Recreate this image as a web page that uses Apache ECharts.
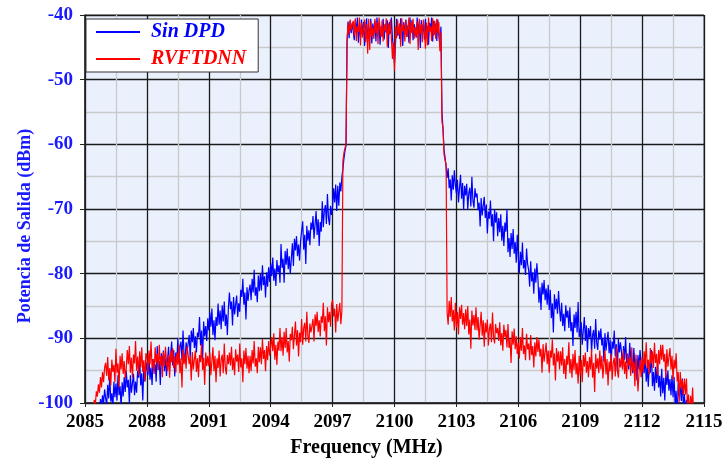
<!DOCTYPE html>
<html>
<head>
<meta charset="utf-8">
<script src="https://cdn.jsdelivr.net/npm/echarts@6/dist/echarts.min.js"></script>
<style>
  html, body { margin: 0; padding: 0; background: #ffffff; }
  #chart { width: 725px; height: 459px; }
</style>
</head>
<body>
<div id="chart"></div>
<script>
// Frequency sweep points (MHz), one row per MHz
const freqMHz = [
  2085.40, 2085.45, 2085.50, 2085.55, 2085.60, 2085.65, 2085.70, 2085.75, 2085.80, 2085.85, 2085.90, 2085.95,
  2086.00, 2086.05, 2086.10, 2086.15, 2086.20, 2086.25, 2086.30, 2086.35, 2086.40, 2086.45, 2086.50, 2086.55, 2086.60, 2086.65, 2086.70, 2086.75, 2086.80, 2086.85, 2086.90, 2086.95,
  2087.00, 2087.05, 2087.10, 2087.15, 2087.20, 2087.25, 2087.30, 2087.35, 2087.40, 2087.45, 2087.50, 2087.55, 2087.60, 2087.65, 2087.70, 2087.75, 2087.80, 2087.85, 2087.90, 2087.95,
  2088.00, 2088.05, 2088.10, 2088.15, 2088.20, 2088.25, 2088.30, 2088.35, 2088.40, 2088.45, 2088.50, 2088.55, 2088.60, 2088.65, 2088.70, 2088.75, 2088.80, 2088.85, 2088.90, 2088.95,
  2089.00, 2089.05, 2089.10, 2089.15, 2089.20, 2089.25, 2089.30, 2089.35, 2089.40, 2089.45, 2089.50, 2089.55, 2089.60, 2089.65, 2089.70, 2089.75, 2089.80, 2089.85, 2089.90, 2089.95,
  2090.00, 2090.05, 2090.10, 2090.15, 2090.20, 2090.25, 2090.30, 2090.35, 2090.40, 2090.45, 2090.50, 2090.55, 2090.60, 2090.65, 2090.70, 2090.75, 2090.80, 2090.85, 2090.90, 2090.95,
  2091.00, 2091.05, 2091.10, 2091.15, 2091.20, 2091.25, 2091.30, 2091.35, 2091.40, 2091.45, 2091.50, 2091.55, 2091.60, 2091.65, 2091.70, 2091.75, 2091.80, 2091.85, 2091.90, 2091.95,
  2092.00, 2092.05, 2092.10, 2092.15, 2092.20, 2092.25, 2092.30, 2092.35, 2092.40, 2092.45, 2092.50, 2092.55, 2092.60, 2092.65, 2092.70, 2092.75, 2092.80, 2092.85, 2092.90, 2092.95,
  2093.00, 2093.05, 2093.10, 2093.15, 2093.20, 2093.25, 2093.30, 2093.35, 2093.40, 2093.45, 2093.50, 2093.55, 2093.60, 2093.65, 2093.70, 2093.75, 2093.80, 2093.85, 2093.90, 2093.95,
  2094.00, 2094.05, 2094.10, 2094.15, 2094.20, 2094.25, 2094.30, 2094.35, 2094.40, 2094.45, 2094.50, 2094.55, 2094.60, 2094.65, 2094.70, 2094.75, 2094.80, 2094.85, 2094.90, 2094.95,
  2095.00, 2095.05, 2095.10, 2095.15, 2095.20, 2095.25, 2095.30, 2095.35, 2095.40, 2095.45, 2095.50, 2095.55, 2095.60, 2095.65, 2095.70, 2095.75, 2095.80, 2095.85, 2095.90, 2095.95,
  2096.00, 2096.05, 2096.10, 2096.15, 2096.20, 2096.25, 2096.30, 2096.35, 2096.40, 2096.45, 2096.50, 2096.55, 2096.60, 2096.65, 2096.70, 2096.75, 2096.80, 2096.85, 2096.90, 2096.95,
  2097.00, 2097.05, 2097.10, 2097.15, 2097.20, 2097.25, 2097.30, 2097.35, 2097.40, 2097.45, 2097.50, 2097.55, 2097.60, 2097.65, 2097.70, 2097.75, 2097.80, 2097.85, 2097.90, 2097.95,
  2098.00, 2098.05, 2098.10, 2098.15, 2098.20, 2098.25, 2098.30, 2098.35, 2098.40, 2098.45, 2098.50, 2098.55, 2098.60, 2098.65, 2098.70, 2098.75, 2098.80, 2098.85, 2098.90, 2098.95,
  2099.00, 2099.05, 2099.10, 2099.15, 2099.20, 2099.25, 2099.30, 2099.35, 2099.40, 2099.45, 2099.50, 2099.55, 2099.60, 2099.65, 2099.70, 2099.75, 2099.80, 2099.85, 2099.90, 2099.95,
  2100.00, 2100.05, 2100.10, 2100.15, 2100.20, 2100.25, 2100.30, 2100.35, 2100.40, 2100.45, 2100.50, 2100.55, 2100.60, 2100.65, 2100.70, 2100.75, 2100.80, 2100.85, 2100.90, 2100.95,
  2101.00, 2101.05, 2101.10, 2101.15, 2101.20, 2101.25, 2101.30, 2101.35, 2101.40, 2101.45, 2101.50, 2101.55, 2101.60, 2101.65, 2101.70, 2101.75, 2101.80, 2101.85, 2101.90, 2101.95,
  2102.00, 2102.05, 2102.10, 2102.15, 2102.20, 2102.25, 2102.30, 2102.35, 2102.40, 2102.45, 2102.50, 2102.55, 2102.60, 2102.65, 2102.70, 2102.75, 2102.80, 2102.85, 2102.90, 2102.95,
  2103.00, 2103.05, 2103.10, 2103.15, 2103.20, 2103.25, 2103.30, 2103.35, 2103.40, 2103.45, 2103.50, 2103.55, 2103.60, 2103.65, 2103.70, 2103.75, 2103.80, 2103.85, 2103.90, 2103.95,
  2104.00, 2104.05, 2104.10, 2104.15, 2104.20, 2104.25, 2104.30, 2104.35, 2104.40, 2104.45, 2104.50, 2104.55, 2104.60, 2104.65, 2104.70, 2104.75, 2104.80, 2104.85, 2104.90, 2104.95,
  2105.00, 2105.05, 2105.10, 2105.15, 2105.20, 2105.25, 2105.30, 2105.35, 2105.40, 2105.45, 2105.50, 2105.55, 2105.60, 2105.65, 2105.70, 2105.75, 2105.80, 2105.85, 2105.90, 2105.95,
  2106.00, 2106.05, 2106.10, 2106.15, 2106.20, 2106.25, 2106.30, 2106.35, 2106.40, 2106.45, 2106.50, 2106.55, 2106.60, 2106.65, 2106.70, 2106.75, 2106.80, 2106.85, 2106.90, 2106.95,
  2107.00, 2107.05, 2107.10, 2107.15, 2107.20, 2107.25, 2107.30, 2107.35, 2107.40, 2107.45, 2107.50, 2107.55, 2107.60, 2107.65, 2107.70, 2107.75, 2107.80, 2107.85, 2107.90, 2107.95,
  2108.00, 2108.05, 2108.10, 2108.15, 2108.20, 2108.25, 2108.30, 2108.35, 2108.40, 2108.45, 2108.50, 2108.55, 2108.60, 2108.65, 2108.70, 2108.75, 2108.80, 2108.85, 2108.90, 2108.95,
  2109.00, 2109.05, 2109.10, 2109.15, 2109.20, 2109.25, 2109.30, 2109.35, 2109.40, 2109.45, 2109.50, 2109.55, 2109.60, 2109.65, 2109.70, 2109.75, 2109.80, 2109.85, 2109.90, 2109.95,
  2110.00, 2110.05, 2110.10, 2110.15, 2110.20, 2110.25, 2110.30, 2110.35, 2110.40, 2110.45, 2110.50, 2110.55, 2110.60, 2110.65, 2110.70, 2110.75, 2110.80, 2110.85, 2110.90, 2110.95,
  2111.00, 2111.05, 2111.10, 2111.15, 2111.20, 2111.25, 2111.30, 2111.35, 2111.40, 2111.45, 2111.50, 2111.55, 2111.60, 2111.65, 2111.70, 2111.75, 2111.80, 2111.85, 2111.90, 2111.95,
  2112.00, 2112.05, 2112.10, 2112.15, 2112.20, 2112.25, 2112.30, 2112.35, 2112.40, 2112.45, 2112.50, 2112.55, 2112.60, 2112.65, 2112.70, 2112.75, 2112.80, 2112.85, 2112.90, 2112.95,
  2113.00, 2113.05, 2113.10, 2113.15, 2113.20, 2113.25, 2113.30, 2113.35, 2113.40, 2113.45, 2113.50, 2113.55, 2113.60, 2113.65, 2113.70, 2113.75, 2113.80, 2113.85, 2113.90, 2113.95,
  2114.00, 2114.05, 2114.10, 2114.15, 2114.20, 2114.25, 2114.30, 2114.35, 2114.40, 2114.45, 2114.50, 2114.55, 2114.60
];

// Output power without predistortion (dBm)
const sinDpd = [
  -104.5, -103.0, -103.8, -101.6, -102.4, -100.3, -101.5, -99.4, -100.6, -98.8, -100.1, -97.9,
  -98.1, -100.5, -97.2, -99.3, -95.8, -99.8, -98.5, -100.8, -96.7, -99.1, -97.0, -99.6, -95.7, -98.8, -97.4, -100.7, -96.8, -99.0, -96.0, -98.3,
  -95.0, -97.6, -96.4, -100.1, -95.7, -98.4, -96.9, -95.5, -98.8, -96.7, -98.4, -95.0, -96.1, -93.3, -97.3, -95.4, -99.6, -94.6, -96.7, -95.1,
  -93.7, -95.7, -92.8, -96.4, -94.5, -97.2, -93.2, -95.1, -94.0, -96.7, -91.2, -94.9, -93.5, -97.2, -92.3, -94.4, -91.9, -95.1, -93.1, -95.8,
  -93.4, -91.3, -94.8, -92.6, -90.5, -94.2, -91.8, -95.9, -92.2, -93.7, -89.9, -93.9, -91.3, -90.5, -93.4, -88.8, -92.5, -93.6, -90.6, -92.0,
  -91.9, -89.5, -93.0, -88.8, -90.6, -88.4, -91.5, -89.7, -92.2, -89.1, -89.8, -86.7, -91.1, -88.8, -93.3, -87.4, -89.7, -88.1, -90.4, -86.9,
  -88.8, -86.0, -88.2, -85.4, -89.5, -87.2, -90.3, -86.7, -88.1, -84.6, -87.9, -85.7, -88.6, -84.9, -87.4, -84.3, -88.1, -86.3, -89.5, -85.2,
  -82.9, -85.5, -84.3, -88.0, -83.6, -86.3, -84.8, -83.4, -86.7, -84.6, -85.9, -82.5, -83.6, -80.8, -84.8, -82.9, -87.1, -82.1, -84.2, -82.6,
  -81.7, -84.1, -80.8, -82.9, -79.4, -83.4, -82.1, -84.4, -80.3, -82.7, -80.0, -82.6, -78.7, -81.8, -80.4, -83.7, -79.8, -82.0, -79.0, -81.3,
  -78.4, -80.4, -77.5, -81.1, -79.2, -81.9, -77.9, -79.8, -78.7, -81.4, -75.4, -79.1, -77.7, -81.4, -76.5, -78.6, -76.1, -79.3, -77.3, -80.0,
  -77.7, -75.3, -78.8, -74.6, -76.4, -74.2, -77.3, -75.5, -78.0, -74.9, -75.0, -71.9, -76.3, -74.0, -78.5, -72.6, -74.9, -73.3, -75.6, -72.1,
  -73.2, -71.1, -74.6, -72.4, -70.3, -74.0, -71.6, -75.7, -72.0, -73.5, -68.8, -72.8, -70.2, -69.4, -72.3, -67.7, -71.4, -72.5, -69.5, -70.9,
  -69.6, -66.8, -69.0, -66.2, -70.3, -66.4, -69.5, -65.9, -67.3, -65.0, -63.8, -62.2, -61.0, -60.2, -44.3, -41.0, -43.6, -40.9, -42.8, -41.2,
  -41.4, -43.9, -40.8, -42.7, -40.4, -44.3, -41.6, -43.4, -40.7, -43.1, -41.1, -44.8, -41.8, -40.5, -43.7, -42.0, -43.2, -40.6, -44.4, -41.3,
  -43.0, -40.9, -44.1, -40.4, -42.5, -41.2, -44.6, -41.7, -43.3, -40.6, -43.8, -41.4, -42.7, -40.8, -45.1, -41.1, -42.9, -40.4, -43.5, -45.3,
  -47.4, -44.4, -40.6, -43.2, -42.0, -43.7, -40.5, -41.8, -44.8, -41.1, -43.1, -40.7, -43.4, -41.6, -44.3, -40.4, -42.7, -40.8, -43.9, -41.4,
  -42.1, -43.5, -40.4, -42.9, -41.1, -45.1, -40.8, -42.7, -41.4, -43.8, -40.6, -43.3, -41.7, -44.6, -41.2, -42.5, -40.4, -44.1, -40.9, -43.0,
  -41.3, -44.0, -40.7, -43.2, -44.9, -41.8, -55.0, -57.5, -60.8, -62.0, -63.5, -65.2, -63.7, -66.8, -65.4, -68.7, -64.8, -67.0, -64.0, -66.3,
  -67.6, -65.5, -69.0, -66.8, -64.7, -68.4, -66.0, -70.1, -66.4, -67.9, -66.1, -70.1, -67.5, -66.7, -69.6, -65.0, -68.7, -69.8, -66.8, -68.2,
  -67.6, -70.2, -69.0, -72.7, -68.3, -71.0, -69.5, -68.1, -71.4, -69.3, -73.8, -70.4, -71.5, -68.7, -72.7, -70.8, -75.0, -70.0, -72.1, -70.5,
  -74.2, -71.4, -73.6, -70.8, -74.9, -72.6, -75.7, -72.1, -73.5, -70.0, -76.7, -74.5, -77.4, -73.7, -76.2, -73.1, -76.9, -75.1, -78.3, -74.0,
  -77.5, -79.9, -76.6, -78.7, -75.2, -79.2, -77.9, -80.2, -76.1, -78.5, -79.4, -82.0, -78.1, -81.2, -79.8, -83.1, -79.2, -81.4, -78.4, -80.7,
  -84.5, -82.1, -85.6, -81.4, -83.2, -81.0, -84.1, -82.3, -84.8, -81.7, -85.6, -82.5, -86.9, -84.6, -89.1, -83.2, -85.5, -83.9, -86.2, -82.7,
  -85.4, -87.4, -84.5, -88.1, -86.2, -88.9, -84.9, -86.8, -85.7, -88.4, -85.2, -88.9, -87.5, -91.2, -86.3, -88.4, -85.9, -89.1, -84.4, -89.8,
  -89.6, -87.5, -91.0, -88.8, -86.7, -90.4, -88.0, -92.1, -88.4, -89.9, -88.1, -92.1, -89.5, -88.7, -91.6, -87.0, -90.7, -91.8, -88.8, -90.2,
  -88.5, -91.1, -89.9, -93.6, -89.2, -91.9, -90.4, -89.0, -92.3, -90.2, -93.9, -90.5, -91.6, -88.8, -92.8, -90.9, -95.1, -90.1, -92.2, -90.6,
  -92.1, -94.5, -91.2, -93.3, -89.8, -93.8, -92.5, -94.8, -90.7, -93.1, -92.8, -95.4, -91.5, -94.6, -93.2, -96.5, -92.6, -94.8, -91.8, -94.1,
  -96.0, -93.2, -95.4, -92.6, -96.7, -94.4, -97.5, -93.9, -95.3, -91.8, -97.4, -95.2, -98.1, -94.4, -96.9, -93.8, -97.6, -95.8, -99.0, -94.7,
  -98.5, -96.1, -99.6, -95.4, -97.2, -95.0, -98.1, -96.3, -98.8, -95.7, -99.1, -96.0, -100.4, -98.1, -102.6, -96.7, -99.0, -97.4, -99.7, -96.2,
  -101.0, -98.6, -101.8, -99.5, -102.7, -100.2, -103.4, -101.1, -104.0, -102.3, -104.6, -103.5, -105.0
];

// Output power with RVFTDNN predistortion (dBm)
const rvftdnn = [
  -101.4, -99.5, -100.3, -98.2, -99.0, -97.1, -98.4, -96.0, -97.6, -95.2, -96.8, -94.5,
  -93.8, -95.8, -92.9, -96.5, -94.6, -97.3, -93.3, -95.2, -94.1, -96.8, -91.6, -95.3, -93.9, -97.6, -92.7, -94.8, -92.3, -95.5, -93.5, -96.2,
  -94.6, -91.8, -94.0, -91.2, -95.3, -93.0, -96.1, -92.5, -93.9, -90.4, -95.0, -92.8, -95.7, -92.0, -94.5, -91.4, -95.2, -93.4, -96.6, -92.3,
  -92.8, -95.2, -91.9, -94.0, -90.5, -94.5, -93.2, -95.5, -91.4, -93.8, -92.3, -94.9, -91.0, -94.1, -92.7, -96.0, -92.1, -94.3, -91.3, -93.6,
  -95.0, -92.6, -96.1, -91.9, -93.7, -91.5, -94.6, -92.8, -95.3, -92.2, -94.1, -91.0, -95.4, -93.1, -97.6, -91.7, -94.0, -92.4, -94.7, -91.2,
  -91.4, -94.0, -92.8, -96.5, -92.1, -94.8, -93.3, -91.9, -95.2, -93.1, -96.0, -92.6, -93.7, -90.9, -94.9, -93.0, -97.2, -92.2, -94.3, -92.7,
  -94.3, -92.2, -95.7, -93.5, -91.4, -95.1, -92.7, -96.8, -93.1, -94.6, -91.9, -95.9, -93.3, -92.5, -95.4, -90.8, -94.5, -95.6, -92.6, -94.0,
  -92.2, -94.2, -91.3, -94.9, -93.0, -95.7, -91.7, -93.6, -92.5, -95.2, -90.8, -94.5, -93.1, -96.8, -91.9, -94.0, -91.5, -94.7, -92.7, -95.4,
  -92.7, -95.1, -91.8, -93.9, -90.4, -94.4, -93.1, -95.4, -91.3, -93.7, -91.4, -94.0, -90.1, -93.2, -91.8, -95.1, -91.2, -93.4, -90.4, -92.7,
  -92.6, -89.8, -92.0, -89.2, -93.3, -91.0, -94.1, -90.5, -91.9, -88.4, -92.0, -89.8, -92.7, -89.0, -91.5, -88.4, -92.2, -90.4, -93.6, -89.3,
  -90.3, -88.2, -91.7, -89.5, -87.4, -91.1, -88.7, -92.8, -89.1, -90.6, -87.0, -91.0, -88.4, -87.6, -90.5, -85.9, -89.6, -90.7, -87.7, -89.1,
  -89.4, -87.0, -90.5, -86.3, -88.1, -85.9, -89.0, -87.2, -89.7, -86.6, -87.6, -84.5, -88.9, -86.6, -91.1, -85.2, -87.5, -85.9, -88.2, -84.7,
  -84.0, -86.6, -85.4, -89.1, -84.7, -87.4, -85.9, -84.5, -87.8, -85.7, -62.5, -61.3, -60.6, -60.0, -44.0, -41.2, -43.0, -40.7, -42.4, -41.5,
  -40.9, -43.2, -40.5, -44.0, -41.7, -42.6, -40.4, -44.7, -41.2, -43.5, -42.1, -40.7, -44.2, -41.4, -46.0, -40.6, -45.4, -41.0, -43.3, -41.9,
  -43.7, -40.6, -42.8, -41.1, -44.5, -40.4, -42.0, -43.4, -40.8, -44.1, -41.5, -42.5, -40.5, -44.9, -41.3, -43.0, -40.7, -43.6, -46.8, -44.3,
  -48.6, -41.8, -43.6, -40.7, -43.0, -41.3, -44.9, -40.5, -42.5, -41.5, -44.1, -40.8, -43.4, -42.0, -40.4, -44.5, -41.1, -42.8, -40.6, -43.7,
  -41.9, -43.3, -41.0, -45.4, -40.6, -42.9, -41.4, -44.2, -40.7, -42.1, -45.2, -41.2, -44.7, -40.4, -42.6, -41.7, -44.0, -40.5, -43.2, -40.9,
  -43.7, -40.6, -42.8, -41.1, -45.6, -42.6, -56.5, -57.5, -61.5, -62.5, -63.0, -86.0, -87.9, -84.2, -86.7, -83.6, -87.4, -85.6, -88.8, -84.5,
  -88.3, -85.9, -89.4, -85.2, -87.0, -84.8, -87.9, -86.1, -88.6, -85.5, -88.1, -85.0, -89.4, -87.1, -91.6, -85.7, -88.0, -86.4, -88.7, -85.2,
  -88.8, -86.7, -90.2, -88.0, -85.9, -89.6, -87.2, -91.3, -87.6, -89.1, -87.1, -91.1, -88.5, -87.7, -90.6, -86.0, -89.7, -90.8, -87.8, -89.2,
  -88.4, -90.4, -87.5, -91.1, -89.2, -91.9, -87.9, -89.8, -88.7, -91.4, -87.8, -91.5, -90.1, -93.8, -88.9, -91.0, -88.5, -91.7, -89.7, -92.4,
  -90.7, -93.1, -89.8, -91.9, -88.4, -92.4, -91.1, -93.4, -89.3, -91.7, -90.8, -93.4, -89.5, -92.6, -91.2, -94.5, -90.6, -92.8, -89.8, -92.1,
  -90.2, -92.8, -91.6, -95.3, -90.9, -93.6, -92.1, -90.7, -94.0, -91.9, -95.3, -91.9, -93.0, -90.2, -94.2, -92.3, -96.5, -91.5, -93.6, -92.0,
  -94.8, -92.0, -94.2, -91.4, -95.5, -93.2, -96.3, -92.7, -94.1, -90.6, -95.4, -93.2, -96.1, -92.4, -94.9, -91.8, -95.6, -93.8, -97.0, -92.7,
  -95.7, -93.3, -96.8, -92.6, -94.4, -92.2, -95.3, -93.5, -96.0, -92.9, -94.8, -91.7, -96.1, -93.8, -98.3, -92.4, -94.7, -93.1, -95.4, -91.9,
  -94.8, -92.7, -96.2, -94.0, -91.9, -95.6, -93.2, -97.3, -93.6, -95.1, -92.4, -96.4, -93.8, -93.0, -95.9, -91.3, -95.0, -96.1, -93.1, -94.5,
  -92.8, -94.8, -91.9, -95.5, -93.6, -96.3, -92.3, -94.2, -93.1, -95.8, -91.4, -95.1, -93.7, -97.4, -92.5, -94.6, -98.2, -95.3, -93.3, -96.0,
  -92.9, -95.3, -92.0, -94.1, -90.6, -94.6, -93.3, -95.6, -91.5, -93.9, -92.0, -94.6, -90.7, -93.8, -92.4, -95.7, -91.8, -94.0, -91.0, -93.3,
  -91.0, -93.6, -92.4, -96.1, -91.7, -94.4, -92.9, -91.5, -94.8, -92.7, -96.4, -93.3, -94.7, -92.3, -96.7, -95.2, -99.8, -95.2, -97.7, -96.4,
  -98.7, -96.2, -98.7, -96.2, -100.7, -98.7, -102.1, -98.9, -100.7, -97.6, -102.7, -101.0, -104.4
];

const seriesNames = ['Sin DPD', 'RVFTDNN'];
const seriesColors = ['#0000ff', '#ff0000'];

const serif = "'Liberation Serif', 'Times New Roman', serif";

function pairs(values) {
  return freqMHz.map((f, i) => [f, values[i]]);
}

const chart = echarts.init(document.getElementById('chart'), null, { renderer: 'canvas' });

chart.setOption({
  animation: false,
  backgroundColor: '#ffffff',
  grid: {
    left: 85, right: 21, top: 15, bottom: 56,
    containLabel: false,
    outerBoundsMode: 'none',
    show: true,
    backgroundColor: '#eaf1fc',
    borderColor: '#555555',
    borderWidth: 1
  },
  legend: {
    orient: 'vertical',
    left: 86, top: 19,
    backgroundColor: '#ffffff',
    borderColor: '#333333',
    borderWidth: 1,
    borderRadius: 0,
    padding: [3, 12, 3, 10],
    itemGap: 7,
    itemWidth: 44,
    itemHeight: 2,
    icon: 'rect',
    data: seriesNames.map((n, i) => ({
      name: n,
      textStyle: { color: seriesColors[i] }
    })),
    textStyle: {
      fontFamily: serif, fontStyle: 'italic', fontWeight: 'bold', fontSize: 20,
      padding: [0, 0, 0, 6]
    }
  },
  xAxis: {
    type: 'value',
    min: 2085, max: 2115, interval: 3,
    name: 'Frequency (MHz)',
    nameLocation: 'middle',
    nameGap: 35,
    nameMoveOverlap: false,
    nameTextStyle: {
      fontFamily: serif, fontWeight: 'bold', fontSize: 20, color: '#000000',
      padding: [0, 56, 0, 0]
    },
    axisLine: { onZero: false, lineStyle: { color: '#222222', width: 1.5 } },
    axisTick: { show: true, inside: false, length: 4, lineStyle: { color: '#222222' } },
    axisLabel: {
      margin: 10, fontFamily: serif, fontWeight: 'bold', fontSize: 19, color: '#000000',
      formatter: v => String(v)
    },
    splitLine: { show: true, lineStyle: { color: '#1a1a1a', width: 1.3 } },
    minorTick: { show: false, splitNumber: 2 },
    minorSplitLine: { show: true, lineStyle: { color: '#c9c9c9', width: 1.3 } }
  },
  yAxis: {
    type: 'value',
    min: -100, max: -40, interval: 10,
    name: 'Potencia de Salida (dBm)',
    nameLocation: 'middle',
    nameGap: 51,
    nameMoveOverlap: false,
    nameTextStyle: {
      fontFamily: serif, fontWeight: 'bold', fontSize: 18, color: '#1a1aff',
      padding: [0, 34, 0, 0]
    },
    axisLine: { show: true, lineStyle: { color: '#222222', width: 1.5 } },
    axisTick: { show: true, inside: false, length: 5, lineStyle: { color: '#222222' } },
    axisLabel: {
      margin: 12,
      fontFamily: serif, fontWeight: 'bold', fontSize: 19, color: '#1a1aff'
    },
    splitLine: { show: true, lineStyle: { color: '#1a1a1a', width: 1.3 } },
    minorTick: { show: false, splitNumber: 2 },
    minorSplitLine: { show: true, lineStyle: { color: '#c9c9c9', width: 1.3 } }
  },
  series: [
    {
      name: seriesNames[0],
      type: 'line',
      data: pairs(sinDpd),
      showSymbol: false,
      symbol: 'none',
      clip: true,
      lineStyle: { color: seriesColors[0], width: 1.2 },
      itemStyle: { color: seriesColors[0] },
      z: 2
    },
    {
      name: seriesNames[1],
      type: 'line',
      data: pairs(rvftdnn),
      showSymbol: false,
      symbol: 'none',
      clip: true,
      lineStyle: { color: seriesColors[1], width: 1.2 },
      itemStyle: { color: seriesColors[1] },
      z: 3
    }
  ]
});
</script>
</body>
</html>
